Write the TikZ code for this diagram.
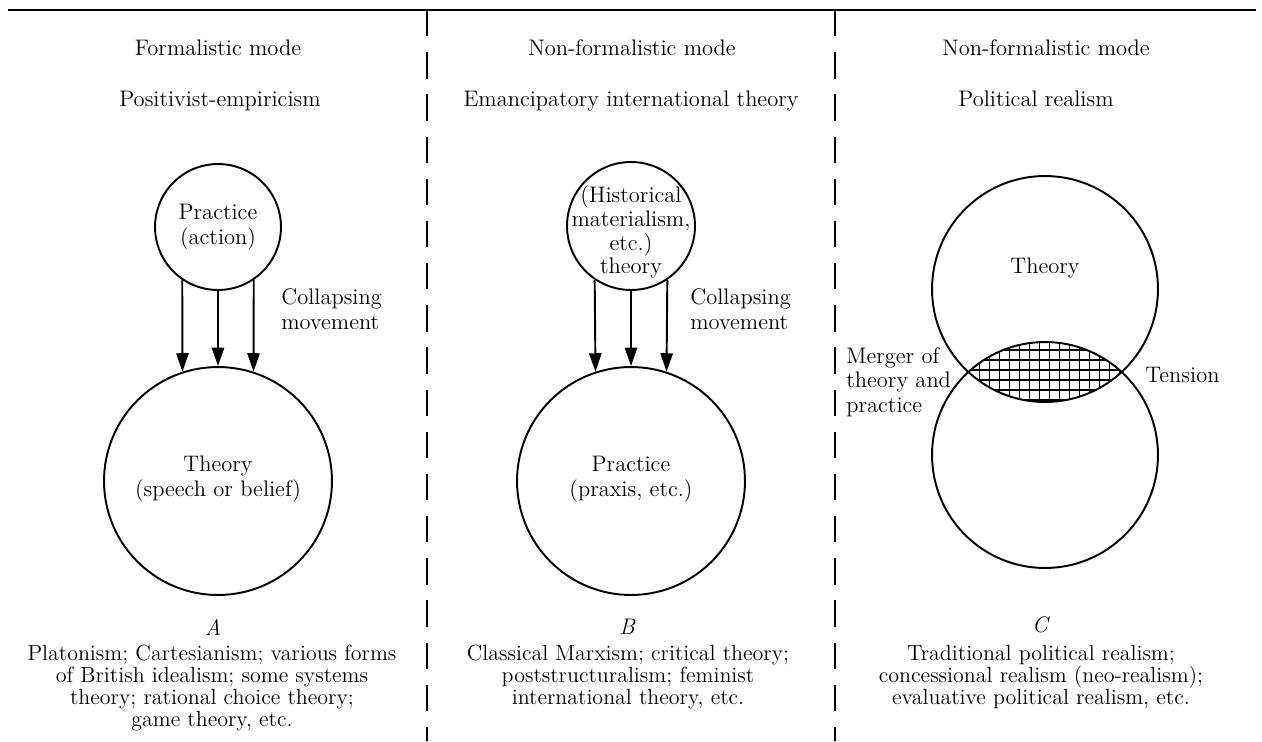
\documentclass[tikz,border=0pt]{standalone}
\usetikzlibrary{arrows.meta}

\begin{document}
\begin{tikzpicture}[x=0.02cm,y=-0.02cm,
    txt/.style={font=\fontsize{12.8}{14}\selectfont, align=center, inner sep=0pt},
    desc/.style={font=\fontsize{12.5}{12.6}\selectfont, align=center, inner sep=0pt},
    ring/.style={draw, circle, line width=1.1pt, inner sep=0pt},
    fall/.style={-{Triangle[length=10.5pt,width=7pt]}, line width=1.1pt},
    divider/.style={line width=1.6pt, dash pattern=on 15pt off 9pt}]
    \useasboundingbox (0,0) rectangle (1262,741);
    \coordinate (tl) at (8,10);
    \coordinate (tr) at (1256,10);
    \coordinate (d1t) at (427,10);
    \coordinate (d1b) at (427,741);
    \coordinate (d2t) at (835,10);
    \coordinate (d2b) at (835,741);
    \draw[line width=1.4pt] (tl) -- (tr);
    \draw[divider] (d1t) -- (d1b);
    \draw[divider] (d2t) -- (d2b);

    \node[txt, anchor=base] (modeA) at (218,55) {Formalistic mode};
    \node[txt, anchor=base] (nameA) at (220,106) {Positivist-empiricism};
    \node[ring, minimum size=2.52cm] (pA) at (218,227) {};
    \node[txt] at (pA) {Practice\\(action)};
    \node[ring, minimum size=4.56cm] (tA) at (218,481) {};
    \node[txt] at (218,479) {Theory\\(speech or belief)};
    \draw[fall] (pA.236) -- (tA.108);
    \draw[fall] (pA.south) -- (tA.north);
    \draw[fall] (pA.304) -- (tA.72);
    \node[txt, align=left, anchor=west] (colA) at (281,309) {Collapsing\\movement};
    \node[txt, font=\fontsize{12.8}{14}\selectfont\itshape] (labA) at (213,627) {A};
    \node[desc] (descA) at (212,688) {Platonism; Cartesianism; various forms\\of British idealism; some systems\\theory; rational choice theory;\\game theory, etc.};

    \node[txt, anchor=base] (modeB) at (632,55) {Non-formalistic mode};
    \node[txt, anchor=base] (nameB) at (631,106) {Emancipatory international theory};
    \node[ring, minimum size=2.56cm] (pB) at (631,226) {};
    \node[txt, font=\fontsize{12.8}{13.6}\selectfont] at (631,232) {(Historical\\materialism,\\etc.)\\theory};
    \node[ring, minimum size=4.56cm] (tB) at (631,481) {};
    \node[txt] at (631,479) {Practice\\(praxis, etc.)};
    \draw[fall] (pB.236) -- (tB.108);
    \draw[fall] (pB.south) -- (tB.north);
    \draw[fall] (pB.304) -- (tB.72);
    \node[txt, align=left, anchor=west] (colB) at (690,309) {Collapsing\\movement};
    \node[txt, font=\fontsize{12.8}{14}\selectfont\itshape] (labB) at (627,627) {B};
    \node[desc] (descB) at (628,677) {Classical Marxism; critical theory;\\poststructuralism; feminist\\international theory, etc.};

    \node[txt, anchor=base] (modeC) at (1046,55) {Non-formalistic mode};
    \node[txt, anchor=base] (nameC) at (1036,106) {Political realism};
    \begin{scope}
      \clip (1045,289) circle[radius=113];
      \clip (1045,455) circle[radius=113];
      \draw[line width=0.7pt] (930,330) grid[step=0.2cm] (1160,420);
    \end{scope}
    \node[ring, minimum size=4.52cm] (thC) at (1045,289) {};
    \node[ring, minimum size=4.52cm] (prC) at (1045,455) {};
    \node[txt] at (1045,268) {Theory};
    \node[txt, align=left, anchor=west] (merC) at (846,382) {Merger of\\theory and\\practice};
    \node[txt, anchor=west] (tenC) at (1145,375) {Tension};
    \node[txt, font=\fontsize{12.8}{14}\selectfont\itshape] (labC) at (1040,625) {C};
    \node[desc] (descC) at (1041,677) {Traditional political realism;\\concessional realism (neo-realism);\\evaluative political realism, etc.};
\end{tikzpicture}
\end{document}
